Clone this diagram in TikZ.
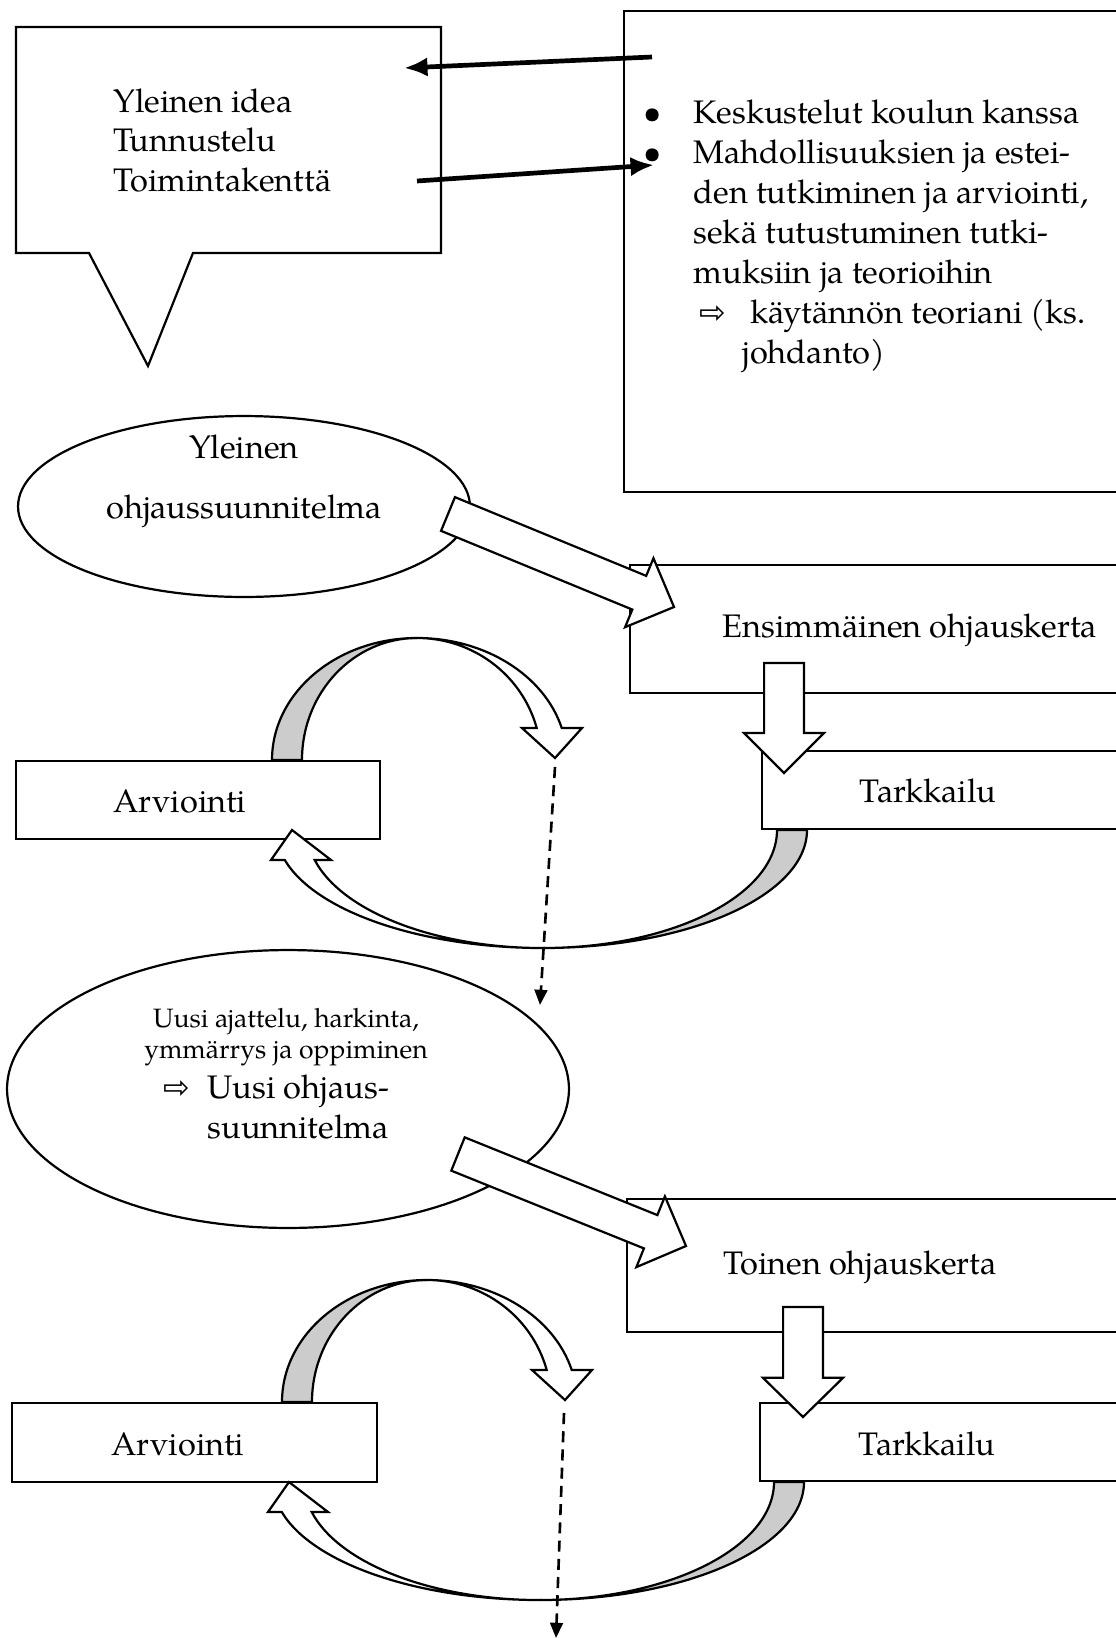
\documentclass[tikz,border=0pt]{standalone}
\usepackage{fontspec}
\setmainfont{texgyrepagella}[Extension=.otf, UprightFont=*-regular,
  BoldFont=*-bold, ItalicFont=*-italic, BoldItalicFont=*-bolditalic]
\newfontfamily\arrowfont{DejaVu Sans}
\usetikzlibrary{arrows.meta,calc,fit,shapes.geometric}
\newcommand{\wharrow}{{\arrowfont\fontsize{11.5}{11.5}\selectfont ⇨}}
% block arrow: from, to, half shaft, half head, head length
\newcommand{\fatarrow}[5]{%
  \draw[fat] ($(#1)!#3!90:(#2)$)
    -- ($($(#2)!#5!(#1)$)!#3!90:(#2)$)
    -- ($($(#2)!#5!(#1)$)!#4!90:(#2)$)
    -- (#2)
    -- ($($(#2)!#5!(#1)$)!#4!-90:(#2)$)
    -- ($($(#2)!#5!(#1)$)!#3!-90:(#2)$)
    -- ($(#1)!#3!-90:(#2)$) -- cycle;}

\begin{document}
\begin{tikzpicture}[x=0.362pt, y=-0.362pt,
  box/.style={draw, line width=0.8pt, fill=white, inner sep=0pt},
  txt/.style={inner sep=0pt, align=left, font=\fontsize{11.8}{14.5}\selectfont},
  plan/.style={draw, ellipse, line width=0.8pt, fill=white, inner sep=0pt},
  fat/.style={draw, line width=0.8pt, fill=white, line join=miter},
  backband/.style={draw, line width=0.8pt, fill=gray!40},
  link/.style={line width=1.7pt, -{Latex[length=8.5pt,width=7pt]}},
  dashlink/.style={line width=0.95pt, dash pattern=on 4pt off 2.6pt,
    -{Triangle[length=5.5pt,width=4.6pt]}}]
  \path[use as bounding box, clip] (0,0) rectangle (1116,1638);

  % top: idea bubble and notes
  \draw[box] (16,27) -- (441,27) -- (441,253) -- (193,253) -- (148,366)
    -- (89,253) -- (16,253) -- cycle;
  \node[txt, anchor=north west, font=\fontsize{11.8}{14.3}\selectfont] (idea)
    at (113,88) {Yleinen idea\\Tunnustelu\\Toimintakenttä};
  \node[box, fit={(624,11) (1130,492)}] (notesbox) {};
  \node[txt, anchor=north west] (notes) at (693,99) {%
    \llap{\makebox[0pt]{•}\hspace{14.8pt}}Keskustelut koulun kanssa\\
    \llap{\makebox[0pt]{•}\hspace{14.8pt}}Mahdollisuuksien ja estei-\\
    den tutkiminen ja arviointi,\\
    sekä tutustuminen tutki-\\
    muksiin ja teorioihin\\
    \hspace*{2pt}\rlap{\wharrow}\hspace*{18.6pt}käytännön teoriani (ks.\\
    \hspace*{17.7pt}johdanto)};
  \coordinate (n1) at (652,57);  \coordinate (i1) at (404,68);
  \coordinate (i2) at (417,181); \coordinate (n2) at (654,165);
  \draw[link] (n1) -- (i1);
  \draw[link] (i2) -- (n2);

  % first round
  \node[plan, minimum width=163.6pt, minimum height=65.5pt] (plan1) at (244,506.5) {};
  \node[txt, align=center, font=\fontsize{11.8}{21.7}\selectfont] (plan1txt)
    at (244,481) {Yleinen\\ohjaussuunnitelma};
  \node[box, fit={(630,565) (1130,693)}] (first) {};
  \node[txt] (firsttxt) at (910,630) {Ensimmäinen ohjauskerta};
  \node[box, fit={(762,751) (1130,829)}] (obs1) {};
  \node[txt] (obs1txt) at (928,791) {Tarkkailu};
  \node[box, fit={(16,761) (380,839)}] (eval1) {};
  \node[txt, anchor=west] (eval1txt) at (113,801) {Arviointi};
  \coordinate (p1out) at (448,514); \coordinate (f1in) at (674,607);
  \coordinate (f1out) at (784,663); \coordinate (o1in) at (784,773);
  \fatarrow{p1out}{f1in}{6.6pt}{13.5pt}{13.6pt}
  \fatarrow{f1out}{o1in}{7.2pt}{14.5pt}{14.5pt}

  % second round
  \node[plan, minimum width=203.4pt, minimum height=100.6pt] (plan2) at (288,1089) {};
  \node[inner sep=0pt, align=center, font=\fontsize{9.6}{11.3}\selectfont] (plan2note)
    at (286,1037) {Uusi ajattelu, harkinta,\\ymmärrys ja oppiminen};
  \node[txt, anchor=north west] (plan2txt) at (207,1074)
    {\llap{\makebox[0pt]{\wharrow}\hspace{11.2pt}}Uusi ohjaus-\\suunnitelma};
  \node[box, fit={(627,1199) (1130,1332)}] (second) {};
  \node[txt] (secondtxt) at (860,1267) {Toinen ohjauskerta};
  \node[box, fit={(760,1403) (1130,1481)}] (obs2) {};
  \node[txt] (obs2txt) at (927,1444) {Tarkkailu};
  \node[box, fit={(12,1403) (377,1482)}] (eval2) {};
  \node[txt, anchor=west] (eval2txt) at (111,1444) {Arviointi};
  \coordinate (p2out) at (458,1154); \coordinate (s2in) at (686,1246);
  \coordinate (s2out) at (803,1307); \coordinate (o2in) at (803,1417);
  \fatarrow{p2out}{s2in}{6.5pt}{13.8pt}{13.8pt}
  \fatarrow{s2out}{o2in}{7.2pt}{14.5pt}{14.2pt}

  % curved arrows of both rounds
  \foreach \tx/\ty/\bx/\by in {0/0/0/0, 10/642/-3/652} {
    \begin{scope}[shift={(\tx,\ty)}]
      \filldraw[backband] (272,760)
        arc[start angle=180, end angle=270, x radius=145, y radius=122]
        arc[start angle=270, end angle=180, x radius=115, y radius=122] -- cycle;
      \filldraw[fat] (417,638)
        arc[start angle=270, end angle=344.8, x radius=150, y radius=122]
        -- (582,728) -- (555,758) -- (522,728) -- (536.7,728)
        arc[start angle=344.8, end angle=270, x radius=124, y radius=122] -- cycle;
    \end{scope}
    \begin{scope}[shift={(\bx,\by)}]
      \filldraw[backband] (807,830)
        arc[start angle=0, end angle=90, x radius=264, y radius=118]
        arc[start angle=90, end angle=0, x radius=234, y radius=118] -- cycle;
      \filldraw[fat] (543,948)
        arc[start angle=90, end angle=165.3, x radius=267, y radius=118]
        -- (271,860) -- (292,830) -- (331,860) -- (314.7,860)
        arc[start angle=165.3, end angle=90, x radius=236, y radius=118] -- cycle;
    \end{scope}
  }

  % towards the next plan
  \coordinate (d1a) at (555,767);  \coordinate (d1b) at (540,1005);
  \coordinate (d2a) at (564,1413); \coordinate (d2b) at (556,1638);
  \draw[dashlink] (d1a) -- (d1b);
  \draw[dashlink] (d2a) -- (d2b);
\end{tikzpicture}
\end{document}
